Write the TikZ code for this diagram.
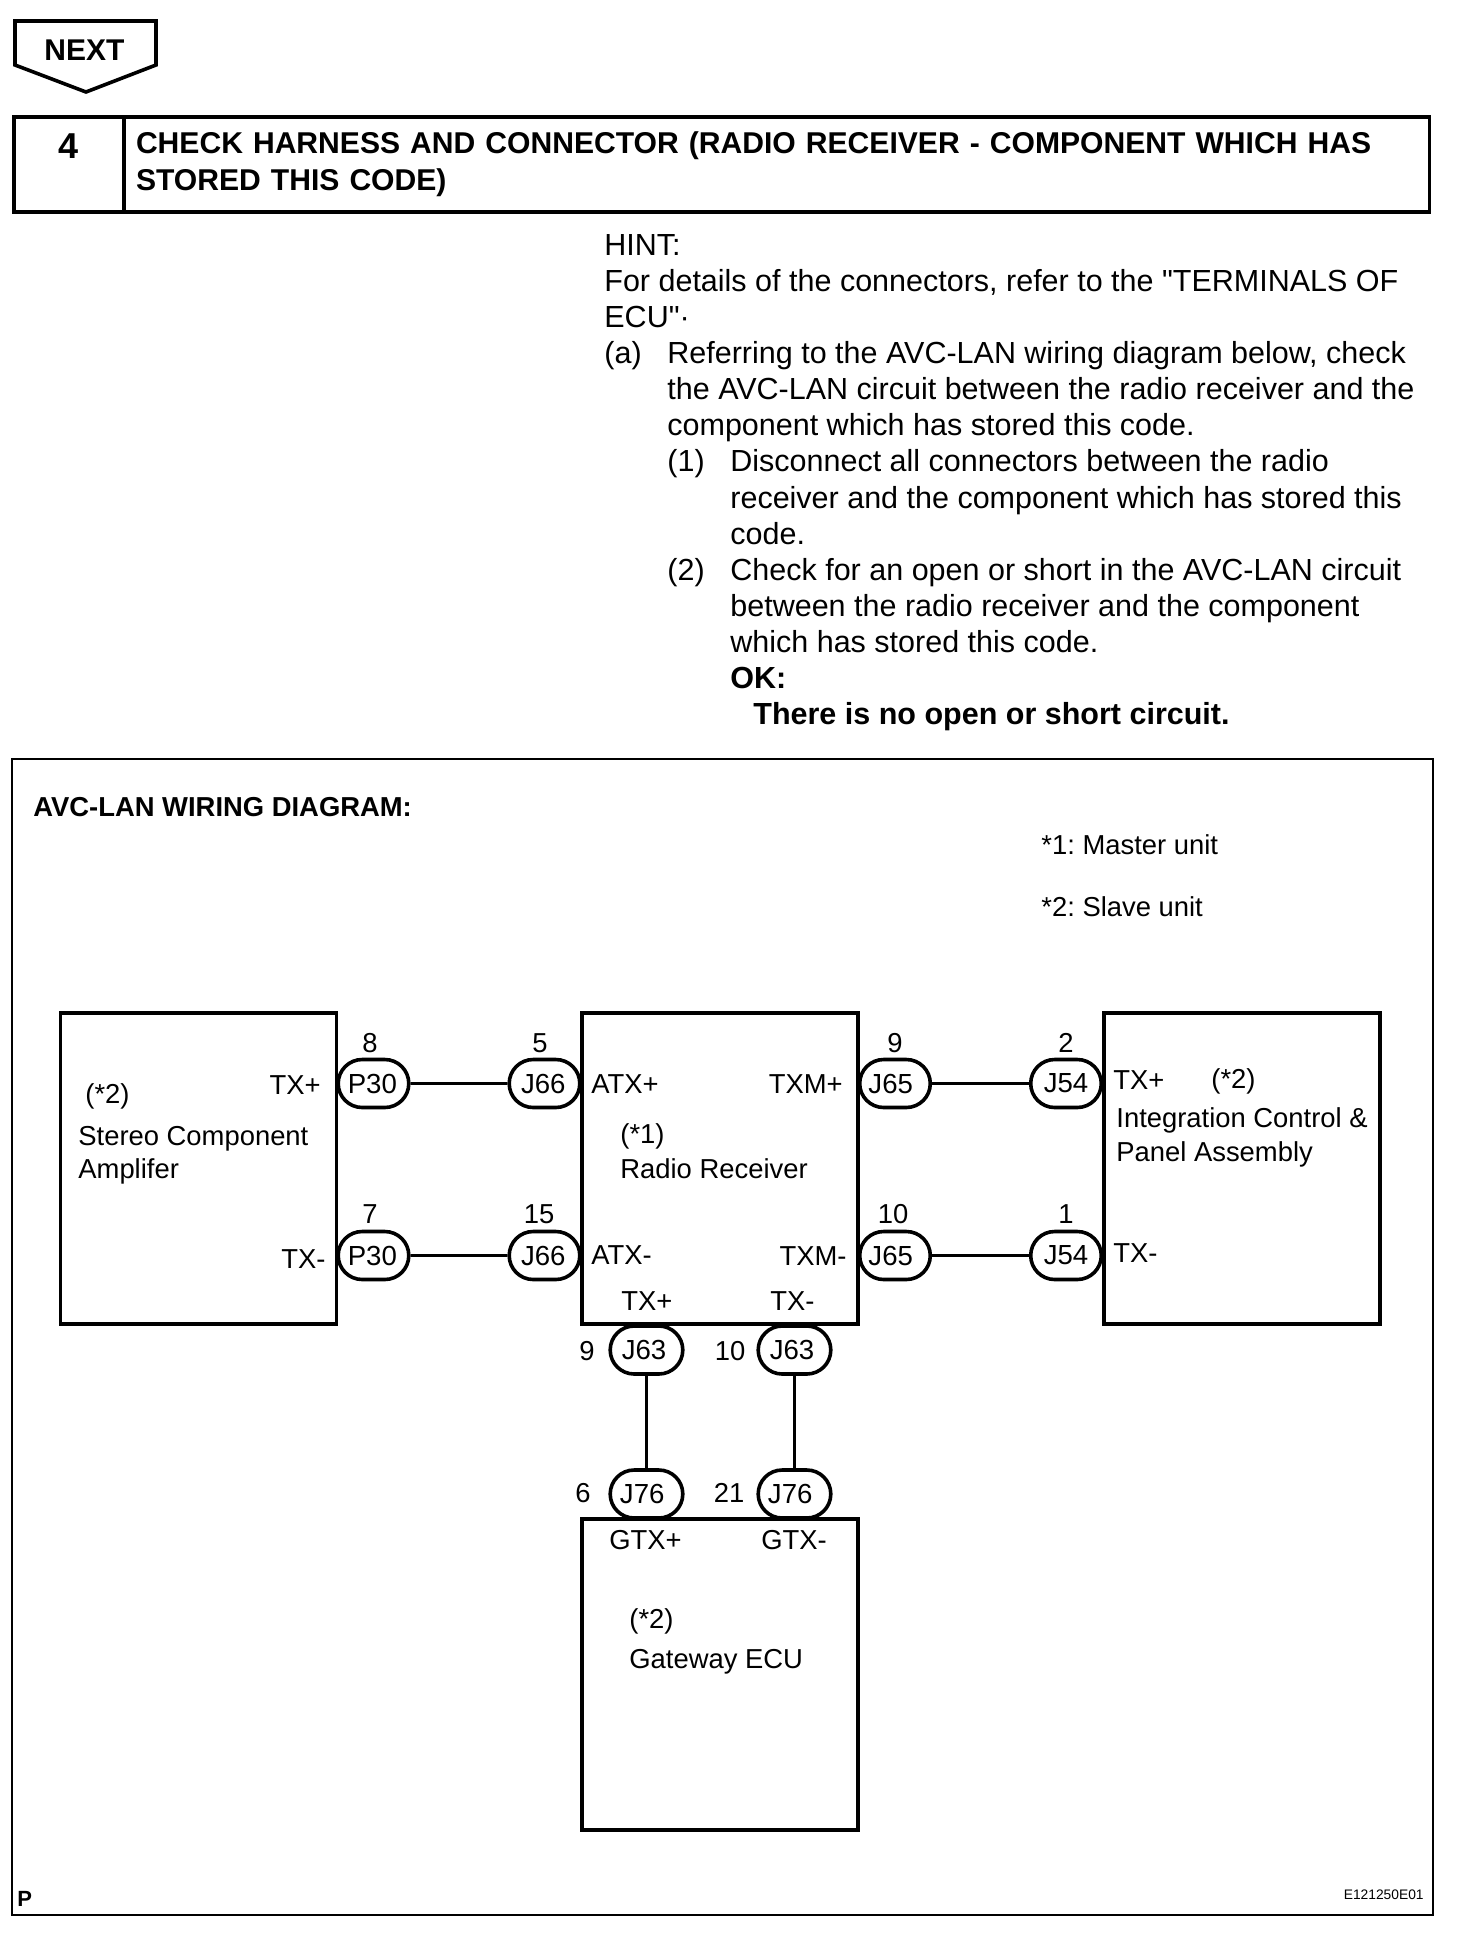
\documentclass[tikz,border=0pt]{standalone}
\usepackage{fontspec}
\setmainfont{Liberation Sans}[Ligatures=TeXOff]
\usetikzlibrary{positioning,shapes.misc}
\tikzset{
  heavy/.style={line width=1.8pt},
  box/.style={draw,heavy,inner sep=0pt,minimum width=138pt,minimum height=155.5pt},
  pill/.style={draw,heavy,rounded rectangle,inner sep=0pt,minimum width=35.3pt,minimum height=24pt,font=\fontsize{13.8}{16}\selectfont},
  widepill/.style={pill,minimum width=36.3pt},
  wire/.style={line width=1.4pt},
  txt/.style={anchor=base west,inner sep=0pt,font=\fontsize{15.25}{18}\selectfont},
  lbl/.style={anchor=base west,inner sep=0pt,font=\fontsize{13.7}{16}\selectfont},
  lblr/.style={lbl,anchor=base east},
  num/.style={lbl,anchor=base},
  boldtxt/.style={txt,font=\fontsize{15.25}{18}\selectfont\bfseries},
}
\begin{document}
\frenchspacing
\begin{tikzpicture}[x=0.5pt,y=-0.5pt]
\useasboundingbox (0,0) rectangle (1472,1934);

\draw[heavy] (15,21)--(156,21)--(156,65)--(86,92)--(15,65)--cycle;
\node[anchor=base,inner sep=0pt,font=\fontsize{15}{18}\selectfont\bfseries] (next) at (84.5,60) {NEXT};

\node[draw,heavy,inner sep=0pt,minimum width=55pt,minimum height=47.5pt] (numcell) at (69,164.5) {};
\node[anchor=base,inner sep=0pt,font=\fontsize{18}{20}\selectfont\bfseries] (numtxt) at (69,158) {4};
\node[draw,heavy,inner sep=6pt,text width=640.8pt,minimum height=47.5pt,align=left,font=\fontsize{15.05}{18.5}\selectfont\bfseries] (titlecell) at (776.8,164.5) {CHECK HARNESS AND CONNECTOR (RADIO RECEIVER - COMPONENT WHICH HAS\\STORED THIS CODE)};

\node[txt] (h1) at (604,255) {HINT:};
\node[txt] (h2) at ([shift={+(0,36.15)}]h1.base west) {For details of the connectors, refer to the "TERMINALS OF};
\node[txt] (h3) at ([shift={+(0,36.15)}]h2.base west) {ECU"·};
\node[txt] (a0) at ([shift={+(0,36.15)}]h3.base west) {(a)};
\node[txt] (a1) at ([shift={+(63,0)}]a0.base west) {Referring to the AVC-LAN wiring diagram below, check};
\node[txt] (a2) at ([shift={+(0,36.15)}]a1.base west) {the AVC-LAN circuit between the radio receiver and the};
\node[txt] (a3) at ([shift={+(0,36.15)}]a2.base west) {component which has stored this code.};
\node[txt] (b0) at ([shift={+(0,36.15)}]a3.base west) {(1)};
\node[txt] (b1) at ([shift={+(63,0)}]b0.base west) {Disconnect all connectors between the radio};
\node[txt] (b2) at ([shift={+(0,36.15)}]b1.base west) {receiver and the component which has stored this};
\node[txt] (b3) at ([shift={+(0,36.15)}]b2.base west) {code.};
\node[txt] (c0) at ([shift={+(-63,36.15)}]b3.base west) {(2)};
\node[txt] (c1) at ([shift={+(63,0)}]c0.base west) {Check for an open or short in the AVC-LAN circuit};
\node[txt] (c2) at ([shift={+(0,36.15)}]c1.base west) {between the radio receiver and the component};
\node[txt] (c3) at ([shift={+(0,36.15)}]c2.base west) {which has stored this code.};
\node[boldtxt] (ok) at ([shift={+(0,36.15)}]c3.base west) {OK:};
\node[boldtxt] (res) at ([shift={+(23,36.15)}]ok.base west) {There is no open or short circuit.};

\draw[line width=1pt] (12,759) rectangle (1433,1915);
\node[lbl,font=\fontsize{13.7}{16}\selectfont\bfseries] (title) at (33,816) {AVC-LAN WIRING DIAGRAM:};
\node[lbl] (note1) at (1041,854) {*1: Master unit};
\node[lbl] (note2) at (1041,916) {*2: Slave unit};

\node[box] (Amp) at (198.5,1168.5) {};
\node[box] (Radio) at (720,1168.5) {};
\node[box] (Integ) at (1242,1168.5) {};
\node[box] (Gate) at (720,1674.5) {};

\node[pill] (P301) at (373.5,1083.5) {P30\kern1.2pt};
\node[pill] (J661) at ([shift={+(171,0)}]P301) {J66\kern1.2pt};
\node[pill] (J651) at (895,1083.5) {J65\kern4.3pt};
\node[pill] (J541) at ([shift={+(171,0)}]J651) {J54};
\node[pill] (P302) at ([shift={+(0,172)}]P301) {P30\kern1.2pt};
\node[pill] (J662) at ([shift={+(0,172)}]J661) {J66\kern1.2pt};
\node[pill] (J652) at ([shift={+(0,172)}]J651) {J65\kern4.3pt};
\node[pill] (J542) at ([shift={+(0,172)}]J541) {J54};
\node[widepill] (J631) at (646.5,1350) {J63\kern2.5pt};
\node[widepill] (J632) at ([shift={+(148,0)}]J631) {J63\kern2.5pt};
\node[widepill] (J761) at ([shift={+(0,144)}]J631) {J76\kern4.3pt};
\node[widepill] (J762) at ([shift={+(0,144)}]J632) {J76\kern4.3pt};

\draw[wire] (P301)--(J661);
\draw[wire] (P302)--(J662);
\draw[wire] (J651)--(J541);
\draw[wire] (J652)--(J542);
\draw[wire] (J631)--(J761);
\draw[wire] (J632)--(J762);

\node[num] (n8) at (370,1052) {8};
\node[num] (n5) at (540,1052) {5};
\node[num] (n7) at (370,1223) {7};
\node[num] (n15) at (539,1223) {15};
\node[num] (n9) at (895,1052) {9};
\node[num] (n10) at (893,1223) {10};
\node[num] (n2) at (1066,1052) {2};
\node[num] (n1) at (1066,1223) {1};
\node[num] (n9b) at (587,1360) {9};
\node[num] (n10b) at (730,1360) {10};
\node[num] (n6) at (583,1502) {6};
\node[num] (n21) at (729,1502) {21};

\node[lblr] (ampp) at (321,1094) {TX+};
\node[lblr] (ampm) at (326,1268) {TX-};
\node[lbl] (amp2) at (85,1103) {(*2)};
\node[lbl] (amp3) at (78,1145) {Stereo Component};
\node[lbl] (amp4) at (78,1178) {Amplifer};

\node[lbl] (atxp) at (591,1093) {ATX+};
\node[lbl] (atxm) at (591,1264) {ATX-};
\node[lblr] (txmp) at (843,1093) {TXM+};
\node[lblr] (txmm) at (847,1265) {TXM-};
\node[lbl] (rad1) at (620,1143) {(*1)};
\node[lbl] (rad2) at (620,1178) {Radio Receiver};
\node[lbl] (radp) at (621,1310) {TX+};
\node[lbl] (radm) at (770,1310) {TX-};

\node[lbl] (intp) at (1113,1089) {TX+};
\node[lbl] (int2) at (1211,1088) {(*2)};
\node[lbl] (int3) at (1116,1127) {Integration Control \&};
\node[lbl] (int4) at (1116,1161) {Panel Assembly};
\node[lbl] (intm) at (1113,1262) {TX-};

\node[lbl] (gtxp) at (609,1549) {GTX+};
\node[lbl] (gtxm) at (761,1549) {GTX-};
\node[lbl] (gat1) at (629,1628) {(*2)};
\node[lbl] (gat2) at (629,1668) {Gateway ECU};

\node[lbl,font=\fontsize{11}{13}\selectfont\bfseries] (pmark) at (17,1906) {P};
\node[lblr,font=\fontsize{6.9}{8}\selectfont] (code) at (1424,1899) {E121250E01};
\end{tikzpicture}
\end{document}
